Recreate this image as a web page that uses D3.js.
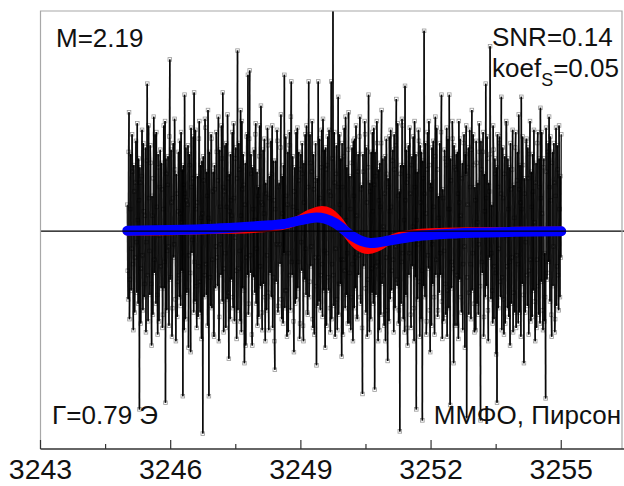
<!DOCTYPE html>
<html>
<head>
<meta charset="utf-8">
<script src="https://cdn.jsdelivr.net/npm/d3@7"></script>
<style>
html,body{margin:0;padding:0;background:#fff;}
svg{display:block;font-family:"Liberation Sans",Arial,sans-serif;}
</style>
</head>
<body>
<svg id="chart" width="624" height="486"></svg>
<script>
// ---- data ----
const xTicksMajor = [3243, 3246, 3249, 3252, 3255];
const xTicksMinor = [3244.5, 3247.5, 3250.5, 3253.5];
const xDomain = [3243, 3256.4];
const yDomain = [-0.99, 1];

const noiseStart = 3245, noiseEnd = 3255;
const noiseValues = [
0.12,-0.18,-0.31,0.36,0.54,-0.4,-0.22,0.1,0.35,-0.27,-0.08,0.44,0.27,-0.15,-0.45,0.3,0.18,-0.37,-0.12,0.22,
0.41,-0.05,-0.28,0.49,0.05,-0.33,0.33,0.14,-0.81,0.29,0.22,-0.42,-0.17,0.25,0.46,-0.11,-0.36,0.4,0.09,-0.3,
-0.24,0.07,0.38,-0.46,-0.05,0.32,0.67,-0.2,-0.41,0.48,0.15,-0.09,-0.29,0.39,0.31,-0.24,-0.52,0.16,0.07,-0.38,
0.24,0.52,-0.19,-0.13,0.44,0.02,-0.33,0.45,0.11,-0.29,-0.47,0.35,0.29,-0.41,-0.02,0.2,0.37,-0.16,-0.26,0.31,
0.19,-0.44,-0.38,0.1,0.48,-0.26,-0.14,0.5,-0.78,0.33,0.26,-0.36,-0.09,0.21,0.34,-0.07,-0.43,0.43,0.78,-0.22,
-0.21,0.37,0.13,-0.48,-0.35,0.15,0.4,-0.12,-0.06,0.51,0.28,-0.31,-0.5,0.26,0.17,-0.39,-0.23,0.09,0.36,-0.2,
-0.3,0.41,0.08,-0.34,0.45,0.04,-0.18,0.28,-0.75,0.3,0.21,-0.45,0.62,0.17,-0.4,0.38,0.14,-0.28,-0.27,0.12,
0.39,-0.53,-0.11,0.35,0.3,-0.19,-0.55,0.47,0.2,-0.1,-0.04,0.24,0.43,-0.37,0.63,-0.14,-0.32,0.46,0.1,-0.25,
-0.44,0.13,0.25,-0.39,-0.16,0.42,0.5,-0.23,-0.37,0.3,0.06,-0.49,0.32,0.08,-0.92,0.34,0.23,-0.3,-0.2,0.51,
0.47,-0.15,-0.29,0.27,0.16,-0.43,0.55,0.06,-0.75,0.36,0.04,-0.21,-0.34,0.44,0.42,-0.35,-0.13,0.18,0.27,-0.47,
-0.48,0.3,0.19,-0.26,-0.07,0.45,0.36,-0.12,-0.25,0.23,0.52,-0.5,-0.39,0.37,0.11,-0.06,-0.2,0.48,0.33,-0.32,
0.63,0.2,-0.46,-0.17,0.18,0.39,-0.1,-0.44,0.4,0.11,-0.31,0.53,0.24,-0.28,-0.58,0.26,0.09,-0.4,0.35,0.14,
-0.22,0.07,0.45,-0.3,-0.35,0.49,0.15,-0.41,-0.03,0.33,0.38,-0.18,-0.49,0.24,0.82,-0.36,-0.17,0.4,0.28,-0.09,
-0.41,0.55,0.07,-0.46,0.5,0.19,-0.26,0.35,0.21,-0.27,-0.6,0.12,0.31,-0.52,-0.12,0.43,0.44,-0.2,0.71,-0.38,
-0.33,0.42,0.73,-0.11,-0.19,0.35,0.26,-0.47,-0.52,0.29,0.1,-0.21,0.37,0.05,-0.28,0.44,0.49,-0.33,-0.08,0.27,
-0.43,0.16,0.2,-0.39,0.34,0.48,-0.16,-0.25,0.57,0.13,-0.37,-0.45,0.12,0.37,-0.24,0.08,0.42,-0.3,-0.5,0.22,
0.17,-0.36,-0.11,0.47,0.39,-0.28,-0.45,0.15,0.25,-0.19,0.03,0.41,-0.3,0.26,0.48,-0.44,-0.21,0.32,0.14,-0.5,
-0.63,0.1,0.32,-0.23,-0.06,0.46,0.41,-0.37,-0.34,0.2,0.22,-0.06,-0.15,0.38,0.53,-0.31,-0.4,0.25,0.08,-0.42,
0.3,-0.1,0.71,-0.35,-0.27,0.43,0.16,-0.27,-0.48,0.12,0.36,-0.46,-0.1,0.39,0.45,-0.2,-0.36,0.52,0.68,-0.14,
-0.2,0.34,0.11,-0.41,-0.55,0.18,0.29,-0.33,0.04,0.45,-0.31,0.09,0.47,-0.26,-0.14,0.36,0.23,-0.49,-0.42,0.28,
0.35,-0.05,-0.18,0.4,0.26,-0.43,-0.5,0.31,0.13,-0.22,0.44,-0.08,-0.29,0.48,0.06,-0.37,-0.38,0.2,0.68,-0.3,
-0.23,0.44,0.31,-0.16,-0.07,0.27,0.5,-0.4,-0.44,0.35,0.19,-0.47,-0.12,0.23,0.4,-0.25,-0.61,0.1,0.24,-0.34,
0.68,-0.12,-0.32,0.42,0.15,-0.36,-0.2,0.29,0.46,-0.15,-0.39,0.51,0.09,-0.27,0.37,-0.09,-0.53,0.38,0.28,-0.43,
-0.1,0.3,0.43,-0.21,-0.27,0.46,0.18,-0.35,-0.46,0.16,0.68,-0.4,-0.15,0.33,1.08,-0.2,-0.34,0.45,0.22,-0.48,
-0.08,0.26,0.39,-0.31,-0.45,0.2,0.61,-0.38,-0.24,0.44,0.12,-0.24,0.33,-0.13,-0.57,0.4,0.2,-0.47,-0.13,0.34,
0.47,-0.18,-0.35,0.52,0.05,-0.29,0.29,-0.1,-0.42,0.37,0.54,-0.42,-0.19,0.25,0.1,-0.45,-0.3,0.31,0.38,-0.15,
-0.5,0.41,0.16,-0.35,0.42,-0.12,-0.26,0.48,0.07,-0.39,-0.4,0.27,0.35,-0.2,-0.11,0.43,0.52,-0.3,-0.33,0.19,
0.21,-0.44,-0.74,0.35,0.27,-0.16,-0.05,0.5,0.44,-0.26,-0.37,0.38,0.13,-0.48,-0.22,0.29,0.62,-0.1,-0.46,0.22,
0.18,-0.4,0.36,-0.17,-0.28,0.45,0.09,-0.33,0.47,0.21,-0.72,0.36,0.25,-0.29,-0.16,0.5,0.4,-0.14,-0.5,0.28,
0.14,-0.45,0.31,0.11,-0.38,0.4,0.55,-0.24,-0.2,0.33,0.02,-0.38,-0.43,0.17,0.34,-0.5,-0.12,0.42,0.26,-0.36,
-0.59,0.24,0.2,-0.41,0.43,0.09,-0.31,0.46,0.11,-0.27,-0.18,0.32,0.37,-0.13,-0.46,0.44,0.28,-0.35,-0.07,0.39,
0.6,-0.22,-0.25,0.49,0.16,-0.42,-0.36,0.18,-0.91,0.26,0.3,-0.33,-0.14,0.51,0.48,-0.1,-0.4,0.3,0.05,-0.46,
0.66,0.14,-0.29,0.37,0.22,-0.44,-0.52,0.25,0.39,-0.2,-0.1,0.47,0.17,-0.38,-0.44,0.3,0.34,-0.16,0.02,0.43,
-0.35,-0.5,0.5,0.2,-0.21,0.35,-0.81,0.05,0.27,-0.31,-0.06,0.46,0.41,-0.23,-0.48,0.39,0.13,-0.4,0.36,-0.18,
-0.86,0.32,0.24,-0.25,0.91,0.17,-0.3,0.4,0.08,-0.47,-0.41,0.28,0.45,-0.11,-0.17,0.5,0.3,-0.36,-0.55,0.22,
0.19,-0.43,0.38,-0.06,-0.24,0.41,0.11,-0.3,-0.47,0.34,0.52,-0.2,-0.13,0.47,0.28,-0.39,-0.36,0.16,0.06,-0.28,
0.4,-0.1,-0.2,0.45,0.62,-0.32,-0.49,0.19,0.15,-0.41,-0.09,0.37,0.33,-0.24,-0.38,0.3,0.47,-0.48,-0.27,0.42,
0.1,-0.35,0.62,0.1,-0.79,0.33,0.23,-0.26,-0.14,0.5,0.42,-0.17,-0.6,0.39,0.29,-0.43,-0.03,0.28,0.35,-0.2,
-0.43,0.36,0.17,-0.49,0.5,0.13,-0.22,0.42,0.07,-0.3,-0.37,0.24,0.31,-0.45,-0.15,0.4,0.44,-0.07,-0.53,0.35,
0.26,0.48,-0.85,-0.21,0.12,0.29,0.38,-0.38,-0.28,0.46,0.2,-0.15,-0.4,0.37,0.55,-0.27,-0.1,0.44,0.3,-0.33,
-0.46,0.2,0.14,-0.45,0.41,0.31,-0.33,0.04,0.22,-0.38,-0.06,0.49,0.36,-0.25,-0.86,0.41,0.28,-0.14,-0.19,0.36,
0.45,-0.48,-0.39,0.26,0.09,-0.3,0.67,0.15,-0.25,0.43,0.33,-0.36,-0.5,0.22,0.18,-0.12,0.84,0.35,-0.31,-0.1,
0.12,-0.27,-0.42,0.48,0.37,-0.4,-0.16,0.33,0.26,-0.19,-0.56,0.29,-0.78,0.44,0.2,-0.35,-0.08,0.4,0.43,-0.23,
-0.3,0.17,0.61,-0.45,-0.21,0.38,0.15,-0.31,-0.47,0.26,0.34,-0.42,-0.02,0.5,0.49,-0.16,-0.35,0.33,0.1,-0.39,
0.29,-0.14,-0.52,0.4,0.19,-0.33,-0.12,0.28,0.46,-0.46,-0.28,0.21,0.06,-0.37,0.38,0.45,-0.44,-0.11,0.23,0.36,
-0.15,-0.42,0.53,0.19,-0.37,0.3,0.13,-0.48,0.61,0.1,-0.24,0.43,0.3,-0.29,-0.6,0.24,0.17,-0.37,-0.05,0.41,
0.42,-0.2,-0.34,0.38,0.24,-0.47,-0.18,0.35,0.5,-0.13,-0.41,0.27,0.11,-0.39,0.35,0.18,-0.27,0.46,0.04,-0.32,
-0.5,0.22,0.31,-0.44,-0.13,0.4,0.45,-0.25,-0.38,0.33,0.2,-0.42,0.56,0.15,-0.23,0.45,0.08,-0.36,-0.45,0.29,
0.33,-0.41,-0.1,-0.3,-0.76,0.47,0.27,-0.22,-0.19,0.36,0.4,-0.14,0.52,0.2,-0.32,0.43,0.14,-0.38,-0.48,0.31,
0.36,-0.25,-0.07,0.4,0.22,-0.46,-0.4,0.16,0.47,-0.34,-0.16,0.39,0.28,-0.2,-0.36,0.48,0.1,-0.3,0.25,-0.12,
0.44
];

const redX = [3245,3246,3247,3247.8,3248.3,3248.7,3249.0,3249.2,3249.45,3249.65,3249.85,3250.0,3250.15,3250.3,3250.55,3250.75,3251.0,3251.3,3251.7,3252.2,3253,3254,3255];
const redY = [0,0.002,0.007,0.011,0.018,0.032,0.055,0.077,0.093,0.086,0.05,0.009,-0.032,-0.064,-0.084,-0.073,-0.045,-0.023,-0.011,-0.006,-0.003,-0.001,0];

const blueX = [3245,3246,3247,3247.8,3248.3,3248.6,3249.0,3249.3,3249.55,3249.8,3250.0,3250.2,3250.4,3250.6,3250.8,3251.0,3251.3,3251.7,3252.2,3253,3254,3255];
const blueY = [0.002,0.005,0.011,0.02,0.027,0.032,0.05,0.061,0.057,0.035,0.005,-0.025,-0.045,-0.054,-0.051,-0.044,-0.034,-0.022,-0.014,-0.007,-0.003,-0.001];

const labels = {
  m: "M=2.19",
  snr: "SNR=0.14",
  koef: "koef",
  koefSub: "S",
  koefVal: "=0.05",
  gamma: "Γ=0.79 Э",
  method: "ММФО, Пирсон"
};

// ---- layout ----
const L = 40.5, R = 622, T = 11, B = 449;
const svg = d3.select("#chart");
const x = d3.scaleLinear().domain(xDomain).range([L, R]);
const y = d3.scaleLinear().domain(yDomain).range([B, T]);

svg.append("defs").append("clipPath").attr("id","clip")
  .append("rect").attr("x",L).attr("y",T).attr("width",R-L).attr("height",B-T);

const step = (noiseEnd - noiseStart) / (noiseValues.length - 1);
const noise = noiseValues.map((v,i)=>({x: noiseStart + i*step, y: v}));
const segs = d3.pairs(noise);

const plot = svg.append("g").attr("clip-path","url(#clip)");

// open square markers (beneath the line)
plot.append("g").selectAll("rect").data(noise).join("rect")
  .attr("x", d=>x(d.x)-1.8).attr("y", d=>y(d.y)-1.8)
  .attr("width",3.6).attr("height",3.6)
  .attr("fill","none").attr("stroke","#9a9a9a").attr("stroke-width",0.8);

// noise: each segment drawn separately so overlaps darken
plot.append("g").selectAll("line").data(segs).join("line")
  .attr("x1",d=>x(d[0].x)).attr("y1",d=>y(d[0].y))
  .attr("x2",d=>x(d[1].x)).attr("y2",d=>y(d[1].y))
  .attr("stroke","#000").attr("stroke-width",1.5).attr("stroke-opacity",0.82);

// zero line
svg.append("line").attr("x1",L).attr("x2",624).attr("y1",y(0)).attr("y2",y(0))
  .attr("stroke","#000").attr("stroke-width",1.2);

// curves
const lineC = d3.line().x(d=>x(d[0])).y(d=>y(d[1])).curve(d3.curveCatmullRom);
plot.append("path").datum(redX.map((v,i)=>[v,redY[i]]))
  .attr("fill","none").attr("stroke","#ff0000").attr("stroke-width",9)
  .attr("stroke-linecap","round").attr("d", lineC);
plot.append("path").datum(blueX.map((v,i)=>[v,blueY[i]]))
  .attr("fill","none").attr("stroke","#0000ff").attr("stroke-width",10)
  .attr("stroke-linecap","round").attr("d", lineC);

// frame
svg.append("path").attr("d",`M${L},${B}V${T}H${R}V${B}`)
  .attr("fill","none").attr("stroke","#a8a8a8").attr("stroke-width",1.2);

// bottom axis
const ax = svg.append("g").attr("transform",`translate(0,${B})`);
ax.append("line").attr("x1",L).attr("x2",624).attr("y1",0).attr("y2",0)
  .attr("stroke","#333").attr("stroke-width",1.3);
ax.selectAll(".maj").data(xTicksMajor).join("line")
  .attr("x1",d=>x(d)).attr("x2",d=>x(d)).attr("y1",0).attr("y2",-9)
  .attr("stroke","#333").attr("stroke-width",1.2);
ax.selectAll(".min").data(xTicksMinor).join("line")
  .attr("x1",d=>x(d)).attr("x2",d=>x(d)).attr("y1",0).attr("y2",-5)
  .attr("stroke","#333").attr("stroke-width",1.2);
ax.selectAll("text").data(xTicksMajor).join("text")
  .attr("x",d=>x(d)).attr("y",30).attr("text-anchor","middle")
  .attr("font-size",28.5).attr("fill","#111").text(d=>d);

// annotations
const fs = 26;
svg.append("text").attr("x",56).attr("y",47).attr("font-size",fs).attr("fill","#111").text(labels.m);
svg.append("text").attr("x",492).attr("y",46).attr("font-size",fs).attr("fill","#111").text(labels.snr);
const k = svg.append("text").attr("x",492).attr("y",77).attr("font-size",fs).attr("fill","#111");
k.append("tspan").text(labels.koef);
k.append("tspan").attr("dy",9).attr("font-size",18).text(labels.koefSub);
k.append("tspan").attr("dy",-9).text(labels.koefVal);
svg.append("text").attr("x",52).attr("y",424).attr("font-size",fs).attr("fill","#111").text(labels.gamma);
svg.append("text").attr("x",621).attr("y",424).attr("text-anchor","end").attr("font-size",fs).attr("fill","#111").text(labels.method);
</script>
</body>
</html>
